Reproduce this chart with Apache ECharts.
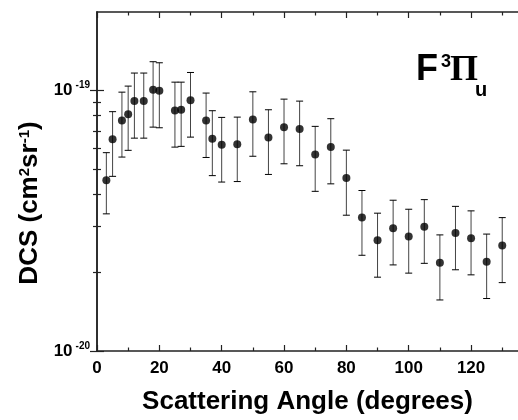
<!DOCTYPE html>
<html>
<head>
<meta charset="utf-8">
<script src="https://cdn.jsdelivr.net/npm/echarts@6/dist/echarts.min.js"></script>
<style>
  html, body { margin: 0; padding: 0; overflow: hidden; background: #fff; }
  #chart { width: 524px; height: 420px; }
</style>
</head>
<body>
<div id="chart"></div>
<script>
// Differential cross section of the F 3Pi_u state versus scattering angle
const angles = [3, 5, 8, 10, 12, 15, 18, 20, 25, 27, 30, 35, 37, 40, 45, 50,
                55, 60, 65, 70, 75, 80, 85, 90, 95, 100, 105, 110, 115, 120, 125, 130];
const dcs = [4.52e-20, 6.49e-20, 7.67e-20, 8.11e-20, 9.10e-20, 9.10e-20, 10.06e-20, 9.97e-20,
             8.38e-20, 8.43e-20, 9.16e-20, 7.67e-20, 6.53e-20, 6.19e-20, 6.22e-20, 7.74e-20,
             6.60e-20, 7.23e-20, 7.11e-20, 5.68e-20, 6.06e-20, 4.61e-20, 3.25e-20, 2.66e-20,
             2.96e-20, 2.75e-20, 3.00e-20, 2.18e-20, 2.84e-20, 2.71e-20, 2.20e-20, 2.54e-20];
const dcsLow = [3.36e-20, 4.68e-20, 5.55e-20, 5.89e-20, 6.56e-20, 6.56e-20, 7.23e-20, 7.19e-20,
                6.06e-20, 6.10e-20, 6.62e-20, 5.53e-20, 4.71e-20, 4.45e-20, 4.47e-20, 5.59e-20,
                4.76e-20, 5.23e-20, 5.14e-20, 4.10e-20, 4.38e-20, 3.32e-20, 2.33e-20, 1.92e-20,
                2.14e-20, 1.99e-20, 2.17e-20, 1.57e-20, 2.05e-20, 1.96e-20, 1.59e-20, 1.83e-20];
const dcsHigh = [5.77e-20, 8.29e-20, 9.85e-20, 10.39e-20, 11.66e-20, 11.66e-20, 12.89e-20, 12.77e-20,
                 10.76e-20, 10.76e-20, 11.72e-20, 9.77e-20, 8.36e-20, 7.88e-20, 7.90e-20, 9.88e-20,
                 8.43e-20, 9.26e-20, 9.10e-20, 7.28e-20, 7.79e-20, 5.90e-20, 4.13e-20, 3.38e-20,
                 3.79e-20, 3.50e-20, 3.81e-20, 2.79e-20, 3.59e-20, 3.45e-20, 2.81e-20, 3.25e-20];

// Axis ticks
const xMajorTicks = [0, 20, 40, 60, 80, 100, 120];
const xMinorTicks = [10, 30, 50, 70, 90, 110, 130];
const yMajorTicks = [1e-20, 1e-19];
const yMinorTicks = [2e-20, 3e-20, 4e-20, 5e-20, 6e-20, 7e-20, 8e-20, 9e-20];
const xRange = [0, 135.7];
const yRange = [1e-20, 2e-19];

const lg = Math.log10;
const yMin = lg(yRange[0]);
const yMax = lg(yRange[1]);

const frameLine = { show: true, lineStyle: { color: '#222', width: 1.5 } };
const tickStyle = { color: '#222', width: 1.2 };
const font = 'Liberation Sans, Arial, sans-serif';

function xAxisOf(position, ticks, len, withLine, withLabels) {
  return {
    type: 'value', position: position, min: xRange[0], max: xRange[1], interval: 20,
    axisLine: withLine ? frameLine : { show: false },
    axisTick: { show: true, inside: true, length: len, customValues: ticks, lineStyle: tickStyle },
    axisLabel: withLabels ? {
      show: true, customValues: ticks, margin: 9, color: '#000',
      fontFamily: font, fontWeight: 'bold', fontSize: 17
    } : { show: false },
    splitLine: { show: false }
  };
}

function yAxisOf(position, ticks, len, withLine, withLabels) {
  const logTicks = ticks.map(v => lg(v));
  return {
    type: 'value', position: position, min: yMin, max: yMax, interval: 1,
    axisLine: withLine ? frameLine : { show: false },
    axisTick: { show: true, inside: true, length: len, customValues: logTicks, lineStyle: tickStyle },
    axisLabel: withLabels ? {
      show: true, customValues: logTicks, margin: 7,
      formatter: v => '{b|10}{s|' + Math.round(v) + '}',
      rich: {
        b: { fontFamily: font, fontWeight: 'bold', fontSize: 17, color: '#000' },
        s: { fontFamily: font, fontWeight: 'bold', fontSize: 10, color: '#000',
             verticalAlign: 'top', padding: [0, 0, 10, 3] }
      }
    } : { show: false },
    splitLine: { show: false }
  };
}

const chart = echarts.init(document.getElementById('chart'));

chart.setOption({
  animation: false,
  grid: { left: 97, top: 12, width: 423, height: 339 },
  xAxis: [
    xAxisOf('bottom', xMajorTicks, 6, true, true),
    xAxisOf('top', xMajorTicks, 6, true, false),
    xAxisOf('bottom', xMinorTicks, 3.5, false, false),
    xAxisOf('top', xMinorTicks, 3.5, false, false)
  ],
  yAxis: [
    yAxisOf('left', yMajorTicks, 7, true, true),
    yAxisOf('right', yMajorTicks, 7, true, false),
    yAxisOf('left', yMinorTicks, 4, false, false),
    yAxisOf('right', yMinorTicks, 4, false, false)
  ],
  series: [
    {
      type: 'custom',
      xAxisIndex: 0, yAxisIndex: 0,
      data: angles.map((a, i) => [a, lg(dcsLow[i]), lg(dcsHigh[i])]),
      encode: { x: 0, y: [1, 2] },
      renderItem: function (params, api) {
        const x = api.value(0);
        const lo = api.coord([x, api.value(1)]);
        const hi = api.coord([x, api.value(2)]);
        const w = 3.5;
        return {
          type: 'group',
          children: [
            { type: 'line', shape: { x1: lo[0], y1: lo[1], x2: hi[0], y2: hi[1] },
              style: { stroke: '#444', lineWidth: 1 } },
            { type: 'line', shape: { x1: lo[0] - w, y1: lo[1], x2: lo[0] + w, y2: lo[1] },
              style: { stroke: '#000', lineWidth: 1 } },
            { type: 'line', shape: { x1: hi[0] - w, y1: hi[1], x2: hi[0] + w, y2: hi[1] },
              style: { stroke: '#000', lineWidth: 1 } }
          ]
        };
      },
      z: 2
    },
    {
      type: 'scatter',
      xAxisIndex: 0, yAxisIndex: 0,
      symbol: 'circle', symbolSize: 8,
      itemStyle: { color: '#000' },
      data: angles.map((a, i) => [a, lg(dcs[i])]),
      z: 3
    }
  ],
  graphic: [
    {
      type: 'text', x: 307.5, y: 402,
      style: {
        text: 'Scattering Angle (degrees)', align: 'center', verticalAlign: 'middle',
        font: 'bold 26px ' + font, fill: '#000'
      }
    },
    {
      type: 'text', x: 30, y: 203, rotation: Math.PI / 2,
      style: {
        text: '{m|DCS (cm}{s|2}{m|sr}{s|-1}{m|)}', align: 'center', verticalAlign: 'middle',
        rich: {
          m: { fontFamily: font, fontWeight: 'bold', fontSize: 26, fill: '#000' },
          s: { fontFamily: font, fontWeight: 'bold', fontSize: 15, fill: '#000',
               verticalAlign: 'top', padding: [0, 0, 8, 0] }
        }
      }
    },
    { type: 'text', x: 416, y: 70.5,
      style: { text: 'F', align: 'left', verticalAlign: 'middle', font: 'bold 36px ' + font, fill: '#000' } },
    { type: 'text', x: 441, y: 62.5,
      style: { text: '3', align: 'left', verticalAlign: 'middle', font: 'bold 18px ' + font, fill: '#000' } },
    { type: 'text', x: 450, y: 71,
      style: { text: 'Π', align: 'left', verticalAlign: 'middle', font: 'bold 36px Liberation Serif, Times New Roman, serif', fill: '#000' } },
    { type: 'text', x: 475, y: 90.5,
      style: { text: 'u', align: 'left', verticalAlign: 'middle', font: 'bold 20px ' + font, fill: '#000' } }
  ]
});
</script>
</body>
</html>
